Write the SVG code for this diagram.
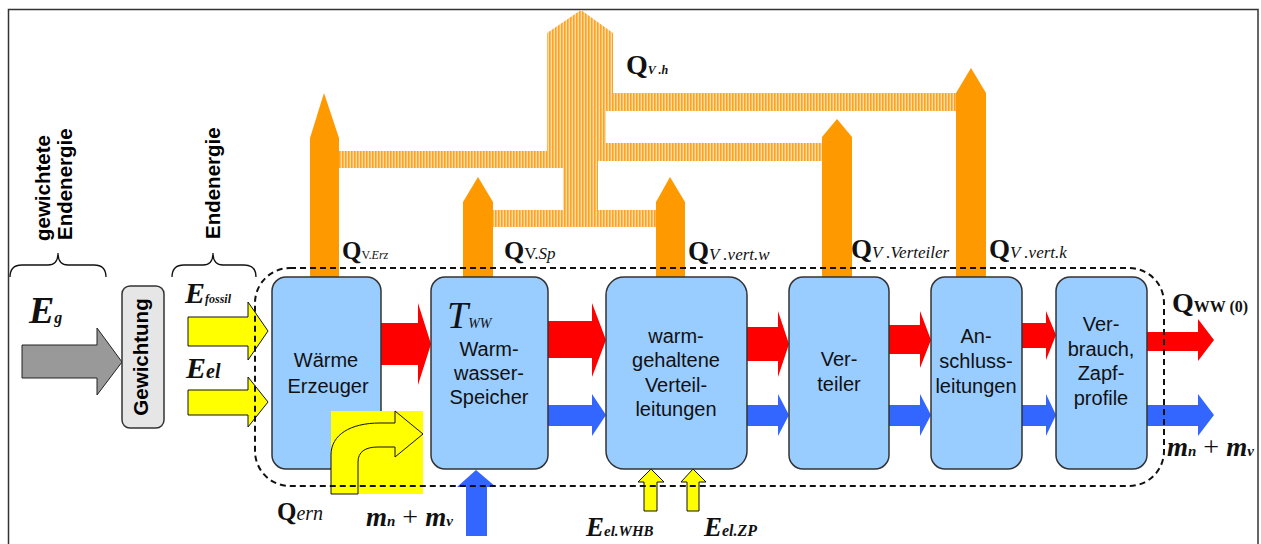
<svg xmlns="http://www.w3.org/2000/svg" width="1261" height="544" viewBox="0 0 1261 544">
<defs>
<pattern id="stripes" width="3" height="10" patternUnits="userSpaceOnUse">
<rect width="3" height="10" fill="#ffdcaa"/>
<rect width="1.6" height="10" fill="#ffa31f"/>
</pattern>
<style>
.node{fill:#99ccff;stroke:#333;stroke-width:1.5}
.nt{font-family:"Liberation Sans",Arial,sans-serif;font-size:20px;fill:#111;text-anchor:middle}
.vt{font-family:"Liberation Sans",Arial,sans-serif;font-size:20.5px;font-weight:bold;fill:#000}
.red{fill:#ff0000}
.blue{fill:#3366ff}
.orange{fill:#ff9900}
.yel{fill:#ffff00;stroke:#111;stroke-width:1}
.q{font-family:"Liberation Serif","Times New Roman",serif;font-weight:bold;fill:#111}
.it{font-family:"Liberation Serif","Times New Roman",serif;font-style:italic;fill:#111}
.brace{fill:none;stroke:#111;stroke-width:1.3}
</style>
</defs>
<rect x="0" y="0" width="1261" height="544" fill="#ffffff"/>
<rect x="8.5" y="9.5" width="1249.5" height="560" fill="none" stroke="#333" stroke-width="1.5"/>

<!-- braces and left labels -->
<path class="brace" d="M10,277 Q10,265 22,265 L48,265 Q58,265 58,253 Q58,265 68,265 L94,265 Q106,265 106,277"/>
<path class="brace" d="M172,277 Q172,265 184,265 L203,265 Q213,265 213,253 Q213,265 223,265 L244,265 Q256,265 256,277"/>
<text class="vt" transform="translate(50,241) rotate(-90)">gewichtete</text>
<text class="vt" transform="translate(72,240) rotate(-90)">Endenergie</text>
<text class="vt" transform="translate(220,239) rotate(-90)">Endenergie</text>

<!-- striped pipes -->
<g id="pipes">
<polygon fill="url(#stripes)" points="581,10 613,33 613,93 956,93 956,111 606,111 606,143 822,143 822,161 598,161 598,210 656,210 656,227 493,227 493,210 563,210 563,168 339,168 339,151 547,151 547,33"/>
</g>

<!-- connectors -->
<g id="connectors">
<polygon class="orange" points="310,277 310,138 324,93 339,138 339,277"/>
<polygon class="orange" points="463,277 463,202 478,177 493,202 493,277"/>
<polygon class="orange" points="656,277 656,202 670,177 685,202 685,277"/>
<polygon class="orange" points="822,277 822,137 837,119 852,137 852,277"/>
<polygon class="orange" points="956,277 956,93 971,68 986,93 986,277"/>

<polygon fill="#999999" stroke="#222" stroke-width="1" points="22,345 97,345 97,328 122,362 97,395 97,378 22,378"/>
<polygon class="yel" points="188,317 248,317 248,302 268,331 248,360 248,346 188,346"/>
<polygon class="yel" points="188,390 248,390 248,377 268,402 248,427 248,415 188,415"/>

<polygon class="red" points="381,323 418,323 418,303 431,344 418,385 418,365 381,365"/>
<polygon class="red" points="548,321 592,321 592,303 606,340 592,377 592,358 548,358"/>
<polygon class="red" points="747,327 778,327 778,311 789,344 778,377 778,361 747,361"/>
<polygon class="red" points="889,325 920,325 920,311 931,340 920,368 920,354 889,354"/>
<polygon class="red" points="1022,323 1046,323 1046,311 1056,335 1046,360 1046,348 1022,348"/>
<polygon class="red" points="1147,332 1198,332 1198,319 1214,340 1198,361 1198,351 1147,351"/>

<polygon class="blue" points="548,405 592,405 592,394 606,415 592,436 592,426 548,426"/>
<polygon class="blue" points="747,405 778,405 778,394 789,415 778,436 778,426 747,426"/>
<polygon class="blue" points="889,405 920,405 920,394 931,415 920,436 920,426 889,426"/>
<polygon class="blue" points="1022,405 1046,405 1046,394 1056,415 1046,436 1046,426 1022,426"/>
<polygon class="blue" points="1147,405 1198,405 1198,394 1214,415 1198,436 1198,426 1147,426"/>
<polygon class="blue" points="466,536 466,487 457,487 476,470 496,487 487,487 487,536"/>

<polygon class="yel" points="644,511 644,482 638,482 651,469 664,482 657,482 657,511"/>
<polygon class="yel" points="687,511 687,482 681,482 693,469 706,482 699,482 699,511"/>
</g>

<!-- nodes -->
<g id="gewichtung">
<rect x="122" y="286" width="42" height="142" rx="8" fill="#e6e6e6" stroke="#333" stroke-width="1.5"/>
<text class="vt" text-anchor="middle" transform="translate(148,357) rotate(-90)">Gewichtung</text>
</g>
<g id="waerme-erzeuger">
<rect class="node" x="272" y="277" width="109" height="192" rx="14"/>
<text class="nt" x="326" y="367">Wärme</text>
<text class="nt" x="328" y="393">Erzeuger</text>
</g>
<g id="speicher">
<rect class="node" x="431" y="277" width="117" height="192" rx="14"/>
<text class="it" x="447" y="328" font-size="38">T<tspan font-size="14">WW</tspan></text>
<text class="nt" x="489" y="356">Warm-</text>
<text class="nt" x="489" y="380">wasser-</text>
<text class="nt" x="489" y="404">Speicher</text>
</g>
<g id="verteilleitungen">
<rect class="node" x="606" y="277" width="141" height="192" rx="18"/>
<text class="nt" x="676" y="343">warm-</text>
<text class="nt" x="676" y="367">gehaltene</text>
<text class="nt" x="676" y="392">Verteil-</text>
<text class="nt" x="676" y="416">leitungen</text>
</g>
<g id="verteiler">
<rect class="node" x="789" y="277" width="100" height="192" rx="14"/>
<text class="nt" x="839" y="366">Ver-</text>
<text class="nt" x="839" y="391">teiler</text>
</g>
<g id="anschlussleitungen">
<rect class="node" x="931" y="277" width="91" height="192" rx="14"/>
<text class="nt" x="976" y="343">An-</text>
<text class="nt" x="976" y="368">schluss-</text>
<text class="nt" x="976" y="393">leitungen</text>
</g>
<g id="verbrauch">
<rect class="node" x="1056" y="277" width="91" height="192" rx="14"/>
<text class="nt" x="1101" y="331">Ver-</text>
<text class="nt" x="1101" y="356">brauch,</text>
<text class="nt" x="1101" y="380">Zapf-</text>
<text class="nt" x="1101" y="405">profile</text>
</g>

<!-- Q_ern curved arrow -->
<g id="qern-arrow">
<rect x="331" y="411" width="92" height="83" fill="#ffff00"/>
<path class="yel" d="M331,494 L331,455 C331,435 350,423 380,423 L395,423 L395,411 L423,434 L395,457 L395,447 L378,447 C365,447 358,452 358,462 L358,494 Z"/>
</g>

<!-- system boundary -->
<rect x="255" y="268" width="909" height="218" rx="35" fill="none" stroke="#111" stroke-width="2" stroke-dasharray="6,4"/>

<!-- labels -->
<g id="labels">
<text class="it" font-weight="bold" x="29" y="323" font-size="38">E<tspan font-size="16">g</tspan></text>
<text class="it" font-weight="bold" x="185" y="303" font-size="30">E<tspan font-size="12">fossil</tspan></text>
<text class="it" font-weight="bold" x="186" y="378" font-size="30">E<tspan font-size="20">el</tspan></text>
<text class="q" x="342" y="259" font-size="25">Q<tspan font-size="12" font-weight="normal">V.<tspan font-style="italic">Erz</tspan></tspan></text>
<text class="q" x="504" y="259" font-size="26">Q<tspan font-size="17" font-weight="normal">V.<tspan font-style="italic">Sp</tspan></tspan></text>
<text class="q" x="688" y="260" font-size="27">Q<tspan font-size="17" font-weight="normal" font-style="italic">V .vert.w</tspan></text>
<text class="q" x="851" y="258" font-size="27">Q<tspan font-size="17" font-weight="normal" font-style="italic">V .Verteiler</tspan></text>
<text class="q" x="989" y="258" font-size="27">Q<tspan font-size="17" font-weight="normal" font-style="italic">V .vert.k</tspan></text>
<text class="q" x="626" y="74" font-size="28">Q<tspan font-size="12" font-style="italic">V .h</tspan></text>
<text class="q" x="1172" y="312" font-size="28">Q<tspan font-size="16">WW (0)</tspan></text>
<text class="q" x="277" y="520" font-size="25">Q<tspan font-size="20" font-weight="normal" font-style="italic">ern</tspan></text>
<text class="it" font-weight="bold" x="366" y="526" font-size="27">m<tspan font-size="15">n</tspan><tspan font-style="normal" font-weight="normal" font-size="28"> + </tspan>m<tspan font-size="15">v</tspan></text>
<text class="it" font-weight="bold" x="1167" y="456" font-size="27">m<tspan font-size="15">n</tspan><tspan font-style="normal" font-weight="normal" font-size="28"> + </tspan>m<tspan font-size="15">v</tspan></text>
<text class="it" font-weight="bold" x="586" y="536" font-size="27">E<tspan font-size="15">el.WHB</tspan></text>
<text class="it" font-weight="bold" x="704" y="536" font-size="27">E<tspan font-size="16">el.ZP</tspan></text>
</g>
</svg>
